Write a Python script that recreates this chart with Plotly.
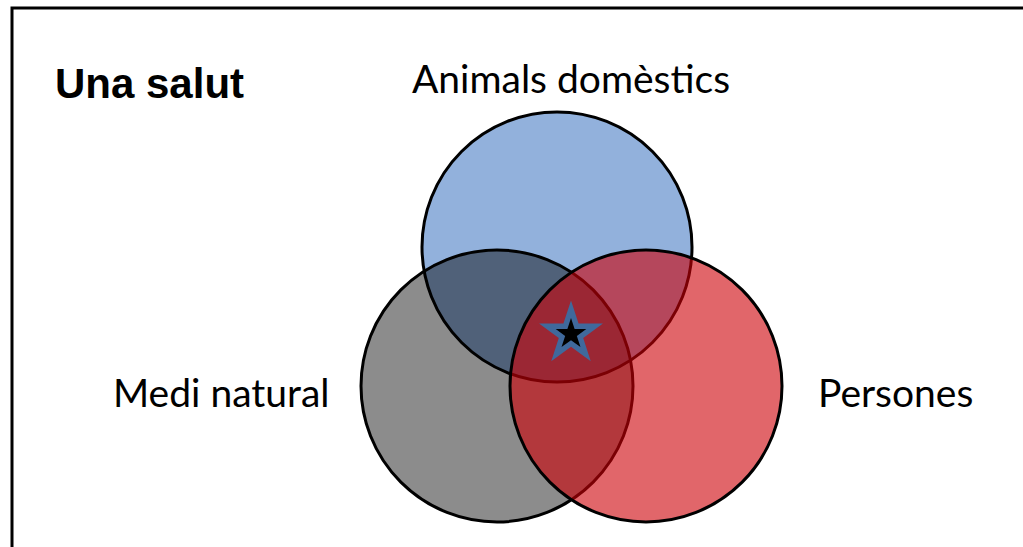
import plotly.graph_objects as go

# Venn diagram data (pixel-space coordinates of the diagram)
circle_names = ["Animals domèstics", "Medi natural", "Persones"]
circle_cx = [557, 497, 646]
circle_cy = [247, 386, 386]
circle_r = [135, 136, 136]
circle_fill = ["rgb(146,177,220)", "rgba(0,0,0,0.45)", "rgba(205,0,6,0.6)"]

label_text = ["Animals domèstics", "Medi natural", "Persones"]
label_x = [571, 221, 895]
label_y = [78, 392, 392]

title_text = "Una salut"
star_x = [571]
star_y = [334]

W, H = 1023, 547

fig = go.Figure()

for cx, cy, r, fc in zip(circle_cx, circle_cy, circle_r, circle_fill):
    fig.add_shape(type="circle", xref="x", yref="y",
                  x0=cx - r, x1=cx + r, y0=cy - r, y1=cy + r,
                  fillcolor=fc, line=dict(color="black", width=3),
                  layer="below")

# star
fig.add_trace(go.Scatter(x=star_x, y=star_y, mode="markers",
                         marker=dict(symbol="star", size=48, color="#40699c",
                                     line=dict(width=0)),
                         hoverinfo="skip", showlegend=False))
fig.add_trace(go.Scatter(x=star_x, y=star_y, mode="markers",
                         marker=dict(symbol="star", size=23, color="black",
                                     line=dict(width=0)),
                         hoverinfo="skip", showlegend=False))

for t, x, y in zip(label_text, label_x, label_y):
    fig.add_annotation(x=x, y=y, xref="x", yref="y", text=t, showarrow=False,
                       font=dict(family="Lato, Open Sans, sans-serif", size=39, color="black"),
                       xanchor="center", yanchor="middle")

fig.add_annotation(x=149, y=83, xref="x", yref="y", text="<b>" + title_text + "</b>",
                   showarrow=False,
                   font=dict(family="Liberation Sans, Arial, sans-serif", size=42, color="black"),
                   xanchor="center", yanchor="middle")

# frame
fig.add_shape(type="rect", xref="x", yref="y", x0=12, y0=8, x1=1040, y1=570,
              line=dict(color="black", width=3), fillcolor="rgba(0,0,0,0)", layer="above")

fig.update_xaxes(range=[0, W], visible=False, fixedrange=True)
fig.update_yaxes(range=[H, 0], visible=False, fixedrange=True)
fig.update_layout(width=W, height=H, autosize=False,
                  margin=dict(l=0, r=0, t=0, b=0, pad=0),
                  paper_bgcolor="white", plot_bgcolor="white",
                  showlegend=False)

fig.write_html("out.html", config={"displayModeBar": False},
               post_script="document.body.style.margin='0';document.body.style.overflow='hidden';")
